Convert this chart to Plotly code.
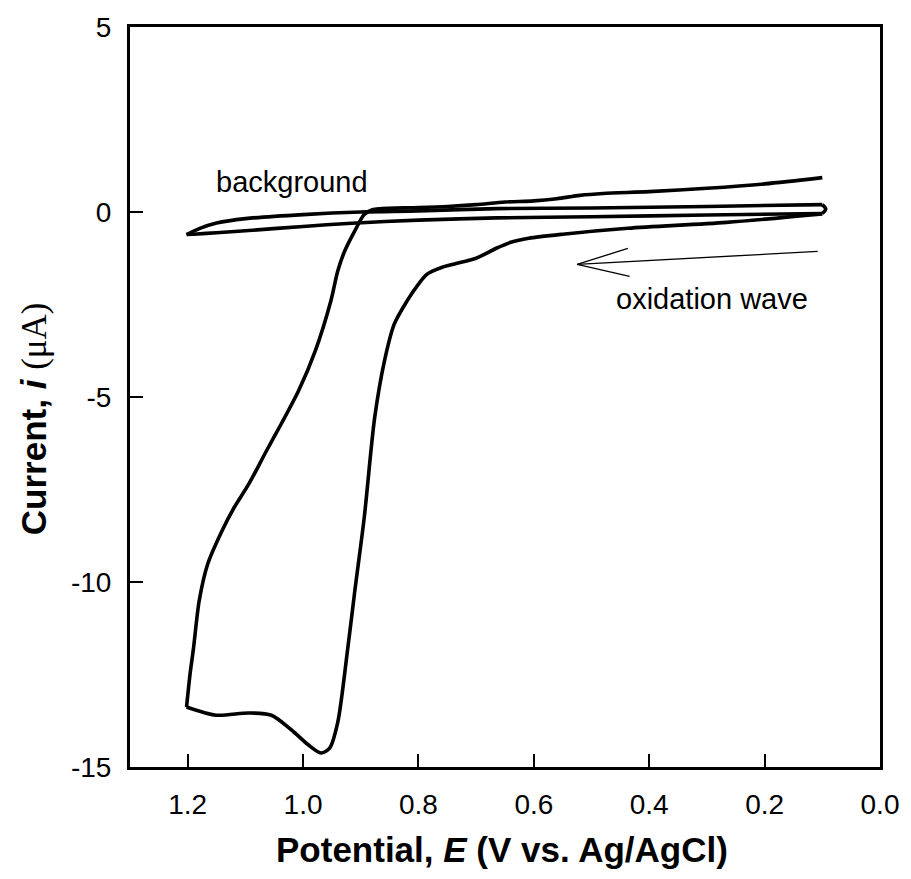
import plotly.graph_objects as go

# Background CV (V vs Ag/AgCl, uA): forward (lower) branch, reverse (upper) branch, turn at 0.1 V
bg_fwd_E = [0.10, 0.30, 0.50, 0.665, 0.80, 0.923, 1.00, 1.094, 1.15, 1.19, 1.202]
bg_fwd_i = [-0.04, -0.08, -0.13, -0.16, -0.22, -0.31, -0.39, -0.50, -0.56, -0.60, -0.61]
bg_rev_E = [1.202, 1.18, 1.15, 1.10, 1.00, 0.90, 0.80, 0.665, 0.50, 0.30, 0.10]
bg_rev_i = [-0.61, -0.45, -0.30, -0.18, -0.07, 0.0, 0.03, 0.09, 0.11, 0.15, 0.20]
bg_turn_E = [0.10, 0.094, 0.10]
bg_turn_i = [0.20, 0.08, -0.04]

# Sample CV: forward (oxidation) scan 0.1 -> 1.2 V
fwd_E = [0.10, 0.266, 0.437, 0.55, 0.609, 0.64, 0.665, 0.70, 0.739, 0.76, 0.785,
         0.80, 0.82, 0.842, 0.859, 0.876, 0.894, 0.91, 0.923, 0.94, 0.954, 0.969, 0.991,
         1.020, 1.055, 1.094, 1.151, 1.202]
fwd_i = [-0.05, -0.28, -0.44, -0.60, -0.71, -0.82, -0.98, -1.25, -1.41, -1.50, -1.68,
         -1.95, -2.41, -3.03, -4.03, -5.57, -8.26, -10.2, -11.85, -13.8, -14.49, -14.62, -14.4,
         -14.0, -13.6, -13.54, -13.6, -13.38]
# Sample CV: reverse scan 1.2 -> 0.1 V
rev_E = [1.202, 1.196, 1.19, 1.18, 1.165, 1.14, 1.12, 1.094, 1.065, 1.038, 1.008, 0.979, 0.952,
         0.94, 0.928, 0.911, 0.894, 0.88, 0.866, 0.80, 0.75, 0.70, 0.65, 0.60, 0.56,
         0.52, 0.48, 0.40, 0.30, 0.20, 0.10]
rev_i = [-13.38, -12.5, -11.8, -10.5, -9.5, -8.6, -8.0, -7.35, -6.5, -5.73, -4.84, -3.76, -2.41,
         -1.6, -1.06, -0.53, -0.07, 0.06, 0.09, 0.12, 0.15, 0.20, 0.27, 0.30, 0.36,
         0.45, 0.50, 0.55, 0.64, 0.76, 0.93]

# Arrow for the oxidation wave label (shaft, then open head)
arrow_E = [0.108, 0.525, None, 0.437, 0.525, 0.434]
arrow_i = [-1.065, -1.415, None, -0.984, -1.415, -1.739]

x_ticks = [1.2, 1.0, 0.8, 0.6, 0.4, 0.2, 0.0]
x_ticktext = ["1.2", "1.0", "0.8", "0.6", "0.4", "0.2", "0.0"]
y_ticks = [5, 0, -5, -10, -15]
y_ticktext = ["5", "0", "-5", "-10", "-15"]

FONT = "Liberation Sans, Arial, sans-serif"
SERIF = "Liberation Serif, Times New Roman, serif"

fig = go.Figure()
curve_line = dict(color="black", width=3.6, shape="spline", smoothing=0.8)
for xs, ys in [(bg_fwd_E, bg_fwd_i), (bg_rev_E, bg_rev_i), (bg_turn_E, bg_turn_i),
               (fwd_E, fwd_i), (rev_E, rev_i)]:
    fig.add_trace(go.Scatter(x=xs, y=ys, mode="lines", line=curve_line,
                             showlegend=False, hoverinfo="skip"))
fig.add_trace(go.Scatter(x=arrow_E, y=arrow_i, mode="lines",
                         line=dict(color="black", width=1.3), showlegend=False,
                         hoverinfo="skip", connectgaps=False))

fig.add_annotation(x=1.019, y=0.82, xref="x", yref="y", text="background",
                   showarrow=False, font=dict(family=FONT, size=29, color="black"))
fig.add_annotation(x=0.291, y=-2.36, xref="x", yref="y", text="oxidation wave",
                   showarrow=False, font=dict(family=FONT, size=29, color="black"))

# Axis titles
fig.add_annotation(x=0.496, y=-0.112, xref="paper", yref="paper",
                   text="<b>Potential, <i>E</i> (V vs. Ag/AgCl)</b>",
                   showarrow=False, xanchor="center", yanchor="middle",
                   font=dict(family=FONT, size=35, color="black"))
fig.add_annotation(x=-0.128, y=0.47, xref="paper", yref="paper",
                   text="<b>Current, <i>i</i> </b><span style='font-family:" + SERIF + "'>(μA)</span>",
                   textangle=-90,
                   showarrow=False, xanchor="center", yanchor="middle",
                   font=dict(family=FONT, size=35, color="black"))

axis_common = dict(showline=True, linecolor="black", linewidth=3, mirror=True,
                   ticks="inside", ticklen=13, tickwidth=2, tickcolor="black",
                   showgrid=False, zeroline=False,
                   tickfont=dict(family=FONT, size=28, color="black"))

fig.update_xaxes(range=[1.3, 0.0], tickvals=x_ticks, ticktext=x_ticktext,
                 ticklabelstandoff=10, **axis_common)
fig.update_yaxes(range=[-15, 5], tickvals=y_ticks, ticktext=y_ticktext,
                 ticklabelstandoff=10, **axis_common)

fig.update_layout(width=911, height=879,
                  margin=dict(l=130, r=23, t=25, b=112),
                  paper_bgcolor="white", plot_bgcolor="white")

fig.write_html("out.html")
